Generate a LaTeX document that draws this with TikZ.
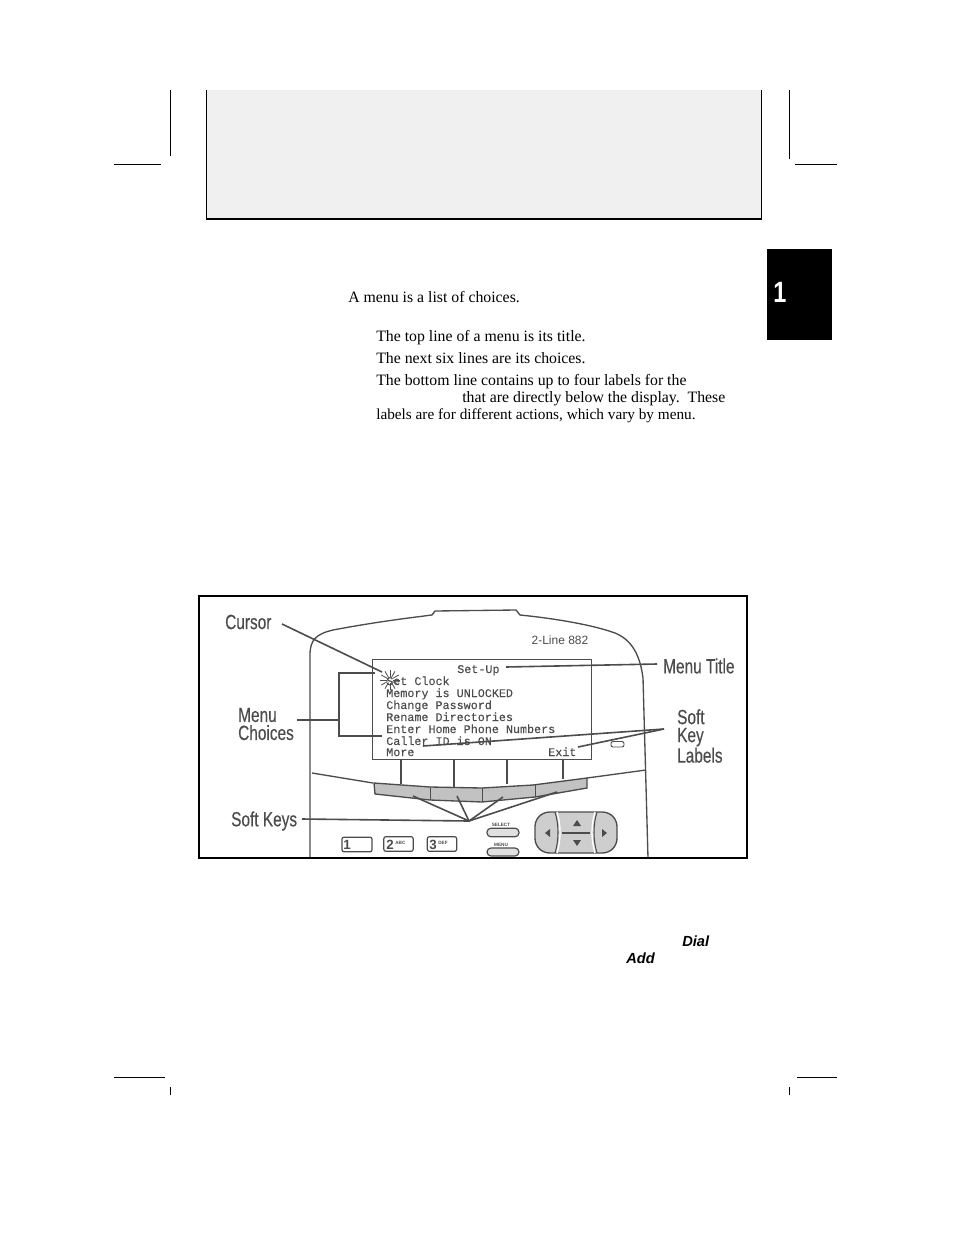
\documentclass[tikz,border=0pt]{standalone}
\usepackage{fontspec}
\setmainfont{Liberation Serif}
\setsansfont{Liberation Sans}
\setmonofont{Liberation Mono}
\newfontfamily\calloutfont[FakeBold=0.35]{Liberation Sans}
\newfontfamily\lcdfont[FakeBold=0.2]{Liberation Mono}
\definecolor{scangray}{gray}{0.3}
\definecolor{keygray}{gray}{0.76}
\tikzset{
  cropmark/.style={black,line width=0.6pt},
  bodytext/.style={anchor=base west,inner sep=0pt,font=\fontsize{11.85}{13}\selectfont},
  callout/.style={anchor=west,inner sep=0pt,align=left,text=scangray,xscale=0.75,transform shape,font=\calloutfont\fontsize{15.4}{13.5}\selectfont},
  pointer/.style={scangray,line width=1.2pt},
  outline/.style={scangray,line width=1pt},
  screentext/.style={anchor=base west,inner sep=0pt,text=scangray,font=\lcdfont\fontsize{8.8}{9}\selectfont},
  phonekey/.style={draw=scangray,line width=0.9pt,rounded corners=1.5pt,fill=white},
  tinylabel/.style={inner sep=0pt,text=scangray,font=\sffamily\bfseries\fontsize{3.5}{4}\selectfont},
  softword/.style={inner sep=0pt,anchor=base west,font=\sffamily\bfseries\itshape\fontsize{11}{12}\selectfont}
}
\begin{document}
\begin{tikzpicture}[x=0.75pt,y=-0.75pt]
\useasboundingbox (0,0) rectangle (954,1235);
% crop marks
\draw[cropmark] (170.5,90) -- (170.5,156);
\draw[cropmark] (789.5,90) -- (789.5,159);
\draw[cropmark] (114,164.5) -- (161,164.5);
\draw[cropmark] (795,164.5) -- (837,164.5);
\draw[cropmark] (114,1077.5) -- (165,1077.5);
\draw[cropmark] (797,1077.5) -- (837,1077.5);
\draw[cropmark] (170.5,1087) -- (170.5,1095);
\draw[cropmark] (789.5,1087) -- (789.5,1095);
% header box
\fill[black!6] (207,90) rectangle (761,219);
\draw[line width=1pt] (206.7,90) -- (206.7,219);
\draw[line width=1pt] (761.5,90) -- (761.5,219);
\draw[line width=1.5pt] (206,219) -- (762,219);
% chapter tab
\node[fill=black,minimum width=48.75pt,minimum height=68.25pt,inner sep=0pt] (tab) at (799.5,294.5) {};
\node[text=white,inner sep=0pt,xscale=0.8,transform shape,font=\sffamily\bfseries\fontsize{22}{22}\selectfont] (tabnum) at (780,292.5) {1};
% text
\node[bodytext] (intro) at (348,302) {A menu is a list of choices.};
\node[bodytext] (lineA) at (376,341) {The top line of a menu is its title.};
\node[bodytext] (lineB) at (376,363) {The next six lines are its choices.};
\node[bodytext] (lineC) at (376,385) {The bottom line contains up to four labels for the};
\node[bodytext] (lineD) at (462,402) {that are directly below the display.\ \ These};
\node[bodytext,font=\fontsize{11.45}{13}\selectfont] (lineE) at (376,419) {labels are for different actions, which vary by menu.};
\node[softword] (dial) at (682,946) {Dial};
\node[softword] (add) at (626,963) {Add};
% phone body
\draw[outline] (310,858) -- (310,655) .. controls (310,640) and (316,634) .. (333,630) .. controls (370,623) and (400,619) .. (432,615) -- (435,611) -- (516,610) -- (520,615) .. controls (550,618) and (590,624) .. (615,633) .. controls (632,640) and (640,655) .. (643,678) -- (648,858);
\draw[outline] (312,773) -- (373,783);
\draw[outline] (587,778) -- (646,770);
% soft keys
\draw[outline,fill=keygray] (374,783) -- (375,794) -- (430,800) -- (482,802) -- (535,797) -- (587,788) -- (587,778) -- (533,785) -- (482,788) -- (430,787) -- cycle;
\foreach \keyx/\keytop/\keybot in {430/787/800,482/788/802,535/785/797}
  \draw[scangray,line width=0.6pt] (\keyx,\keytop) -- (\keyx,\keybot);
% screen
\draw[outline,line width=0.7pt] (372,659) rectangle (591,759);
\foreach \stemx/\stemy in {401/784,454/787,507/784,563/779}
  \draw[scangray,line width=1.6pt] (\stemx,759) -- (\stemx,\stemy);
\node[screentext] (title) at (457,673) {Set-Up};
\node[screentext] (rowA) at (386,685) {Set Clock};
\node[screentext] (rowB) at (386,697) {Memory is UNLOCKED};
\node[screentext] (rowC) at (386,709) {Change Password};
\node[screentext] (rowD) at (386,721) {Rename Directories};
\node[screentext] (rowE) at (386,733) {Enter Home Phone Numbers};
\node[screentext] (rowF) at (386,745) {Caller ID is ON};
\node[screentext] (more) at (386,756) {More};
\node[screentext] (exit) at (548,756) {Exit};
\node[inner sep=0pt,text=scangray,font=\sffamily\fontsize{9}{9}\selectfont] (model) at (560,640) {2-Line 882};
% cursor burst
\foreach \ang in {0,30,...,330}
  \draw[scangray,line width=0.6pt] (390,680) ++(\ang:3) -- ++(\ang:7);
\draw[outline,line width=0.7pt,rounded corners=1.5pt] (611,741.5) rectangle (624,747);
% number keys
\node[phonekey,minimum width=22.5pt,minimum height=11pt,inner sep=0pt] (keyone) at (357,844.5) {};
\node[phonekey,minimum width=22pt,minimum height=11pt,inner sep=0pt] (keytwo) at (398.5,844) {};
\node[phonekey,minimum width=22pt,minimum height=11pt,inner sep=0pt] (keythree) at (442,844) {};
\node[anchor=west,inner sep=0pt,text=scangray,font=\sffamily\bfseries\fontsize{10}{10}\selectfont] (oneT) at (343,845) {1};
\node[anchor=west,inner sep=0pt,text=scangray,font=\sffamily\bfseries\fontsize{10}{10}\selectfont] (twoT) at (386,845) {2};
\node[anchor=west,inner sep=0pt,text=scangray,font=\sffamily\bfseries\fontsize{10}{10}\selectfont] (threeT) at (429,845) {3};
\node[tinylabel,anchor=west] (abc) at (395,843) {ABC};
\node[tinylabel,anchor=west] (def) at (438,843) {DEF};
% select and menu
\node[phonekey,rounded corners=3pt,fill=keygray!50,minimum width=24pt,minimum height=6.5pt,inner sep=0pt] (selectkey) at (503,832.5) {};
\node[phonekey,rounded corners=3pt,fill=keygray!50,minimum width=24pt,minimum height=6pt,inner sep=0pt] (menukey) at (503,852) {};
\node[tinylabel] (selectT) at (501,825) {SELECT};
\node[tinylabel] (menuT) at (501,845) {MENU};
% navigation pad
\draw[outline,fill=keygray!80,rounded corners=11pt] (535,812) rectangle (617,853);
\draw[white,line width=1pt] (557,812) .. controls (561,825) and (561,840) .. (557,853);
\draw[white,line width=1pt] (595,812) .. controls (591,825) and (591,840) .. (595,853);
\draw[scangray,line width=0.8pt] (555,812) .. controls (559,825) and (559,840) .. (555,853);
\draw[scangray,line width=0.8pt] (597,812) .. controls (593,825) and (593,840) .. (597,853);
\draw[scangray,line width=1.2pt] (562,833) -- (590,833);
\fill[scangray] (577,820) -- (581,826) -- (573,826) -- cycle;
\fill[scangray] (577,846) -- (581,840) -- (573,840) -- cycle;
\fill[scangray] (545,833) -- (550,829) -- (550,837) -- cycle;
\fill[scangray] (607,833) -- (602,829) -- (602,837) -- cycle;
% callout labels
\node[callout] (cursorL) at (225,622) {Cursor};
\node[callout] (menuL) at (238,724) {Menu\\Choices};
\node[callout] (softL) at (231,821) {Soft Keys};
\node[callout] (titleL) at (663,666) {Menu Title};
\node[callout] (keylabL) at (677,736) {Soft\\Key\\Labels};
% callout lines
\coordinate (cursorEnd) at (382,672);
\coordinate (titleEnd) at (506,667);
\coordinate (bracketMid) at (339,720);
\coordinate (softApex) at (469,821);
\coordinate (labelApex) at (664,729);
\draw[pointer] (282,624) -- (cursorEnd);
\draw[pointer] (375,673) -- (339,673) -- (339,736) -- (382,736);
\draw[pointer] (297,720) -- (bracketMid);
\draw[pointer] (302,819) -- (softApex);
\foreach \tipx/\tipy in {413/796,457/796,503/797,557/792}
  \draw[pointer] (softApex) -- (\tipx,\tipy);
\draw[pointer] (657,664) -- (titleEnd);
\draw[pointer] (labelApex) -- (423,746);
\draw[pointer] (labelApex) -- (578,747);
% frame
\draw[line width=1.6pt] (199,596) rectangle (747,858);
\end{tikzpicture}
\end{document}
